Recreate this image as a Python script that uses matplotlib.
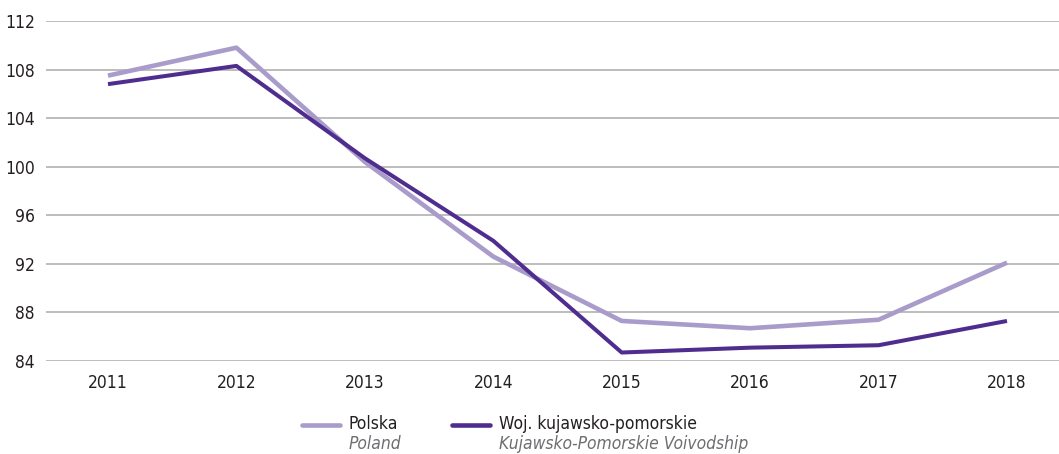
import matplotlib.pyplot as plt
from matplotlib.lines import Line2D

plt.rcParams['font.family'] = ['DejaVu Sans']
plt.rcParams['font.stretch'] = 'condensed'

years = [2011, 2012, 2013, 2014, 2015, 2016, 2017, 2018]
polska = [107.5, 109.8, 100.4, 92.6, 87.3, 86.7, 87.4, 92.1]
kujawsko = [106.8, 108.3, 100.7, 93.9, 84.7, 85.1, 85.3, 87.3]
yticks = [84, 88, 92, 96, 100, 104, 108, 112]

light = '#a99bca'
dark = '#4f2d8f'
grid = '#ababab'
txt = '#231f20'

fig = plt.figure(figsize=(10.59, 4.54), dpi=100)
ax = fig.add_axes([0.0434, 0.2048, 0.9566, 0.749])

ax.plot(years, polska, color=light, lw=3.3, solid_capstyle='butt', zorder=3)
ax.plot(years, kujawsko, color=dark, lw=2.9, solid_capstyle='butt', zorder=4)

ax.set_ylim(84, 112)
ax.set_xlim(2010.517, 2018.405)
ax.set_yticks(yticks)
ax.set_yticklabels([str(v) for v in yticks])
ax.set_xticks(years)
ax.set_xticklabels([str(y) for y in years])
ax.yaxis.grid(True, color=grid, lw=1.1)
ax.set_axisbelow(True)
for s in ax.spines.values():
    s.set_visible(False)
ax.tick_params(axis='both', length=0, labelsize=12.5, colors=txt)
ax.tick_params(axis='y', pad=8)
ax.tick_params(axis='x', pad=9)

# legend
W, H = 1059, 454
def lg(x0, x1, color, lw, title, sub, tx):
    fig.add_artist(Line2D([x0 / W, x1 / W], [1 - 425 / H, 1 - 425 / H], color=color, lw=lw,
                          solid_capstyle='round'))
    fig.text(tx / W, 1 - 424 / H, title, fontsize=12.5, color=txt, va='center', ha='left')
    fig.text(tx / W, 1 - 444 / H, sub, fontsize=12.5, color='#6d6e71', style='italic',
             va='center', ha='left')

lg(302, 340, light, 3.3, 'Polska', 'Poland', 349)
lg(452, 490, dark, 3.3, 'Woj. kujawsko-pomorskie', 'Kujawsko-Pomorskie Voivodship', 499)

fig.savefig('out.png', dpi=100)
